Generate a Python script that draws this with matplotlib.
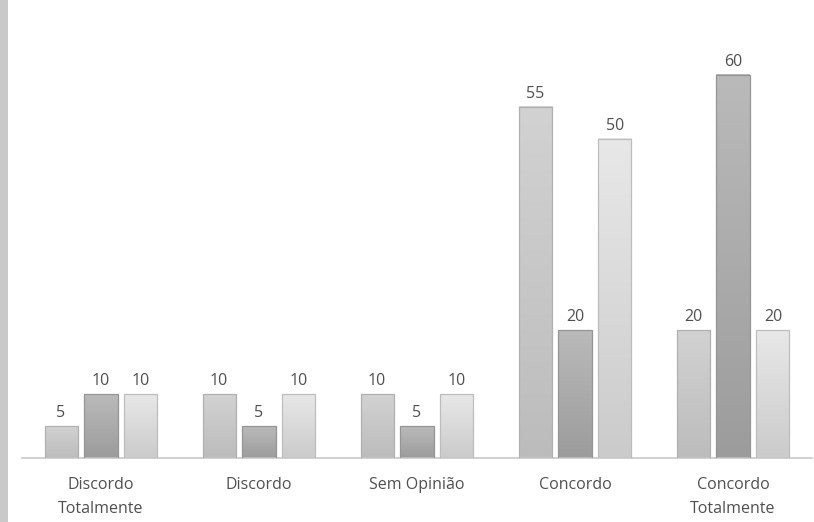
import numpy as np
import matplotlib
matplotlib.use("Agg")
import matplotlib.pyplot as plt
from matplotlib.colors import LinearSegmentedColormap
from matplotlib.patches import Rectangle

categories = ["Discordo\nTotalmente", "Discordo", "Sem Opinião", "Concordo", "Concordo\nTotalmente"]
serie_a = [5, 10, 10, 55, 20]
serie_b = [10, 5, 5, 20, 60]
serie_c = [10, 10, 10, 50, 20]

# (top colour, bottom colour) of each series' vertical gradient
shades = [("#d2d2d2", "#bcbcbc"), ("#bababa", "#9c9c9c"), ("#e8e8e8", "#cbcbcb")]
edges = ["#b0b0b0", "#959595", "#bdbdbd"]

fig = plt.figure(figsize=(8.14, 5.22), dpi=100)
fig.patch.set_facecolor("white")
ax = fig.add_axes([22 / 814, (522 - 458) / 522, 790 / 814, (458 - 43) / 522])

# grey strip along the left border
fig.patches.append(Rectangle((0, 0), 8 / 814, 1, transform=fig.transFigure,
                             facecolor="#c9c9c9", edgecolor="none"))

x = np.arange(len(categories))
width = 0.209
step = 0.253
grad = np.linspace(1, 0, 256).reshape(-1, 1)

for i, vals in enumerate([serie_a, serie_b, serie_c]):
    cmap = LinearSegmentedColormap.from_list(f"s{i}", [shades[i][1], shades[i][0]])
    bars = ax.bar(x + (i - 1) * step, vals, width, color="none", edgecolor=edges[i],
                  linewidth=0.9, zorder=3)
    for rect, v in zip(bars, vals):
        x0, y0 = rect.get_x(), rect.get_y()
        w, h = rect.get_width(), rect.get_height()
        ax.imshow(grad, extent=(x0, x0 + w, y0, y0 + h), cmap=cmap,
                  aspect="auto", zorder=2, interpolation="bilinear", vmin=0, vmax=1)
        ax.text(x0 + w / 2, y0 + h + 0.8, f"{v}", ha="center", va="bottom",
                fontsize=11.5, color="#505050", family="Open Sans")

ax.set_xlim(-0.5, len(categories) - 0.5)
ax.set_ylim(0, 65)
ax.set_xticks(x)
ax.set_xticklabels(categories, fontsize=11.5, color="#505050", family="Open Sans",
                   linespacing=1.65)
ax.tick_params(axis="x", length=0, pad=14)
ax.set_yticks([])
for side in ["top", "right", "left"]:
    ax.spines[side].set_visible(False)
ax.spines["bottom"].set_color("#c8c8c8")
ax.spines["bottom"].set_linewidth(1.2)
ax.set_facecolor("white")

fig.savefig("out.png", dpi=100, facecolor="white")
